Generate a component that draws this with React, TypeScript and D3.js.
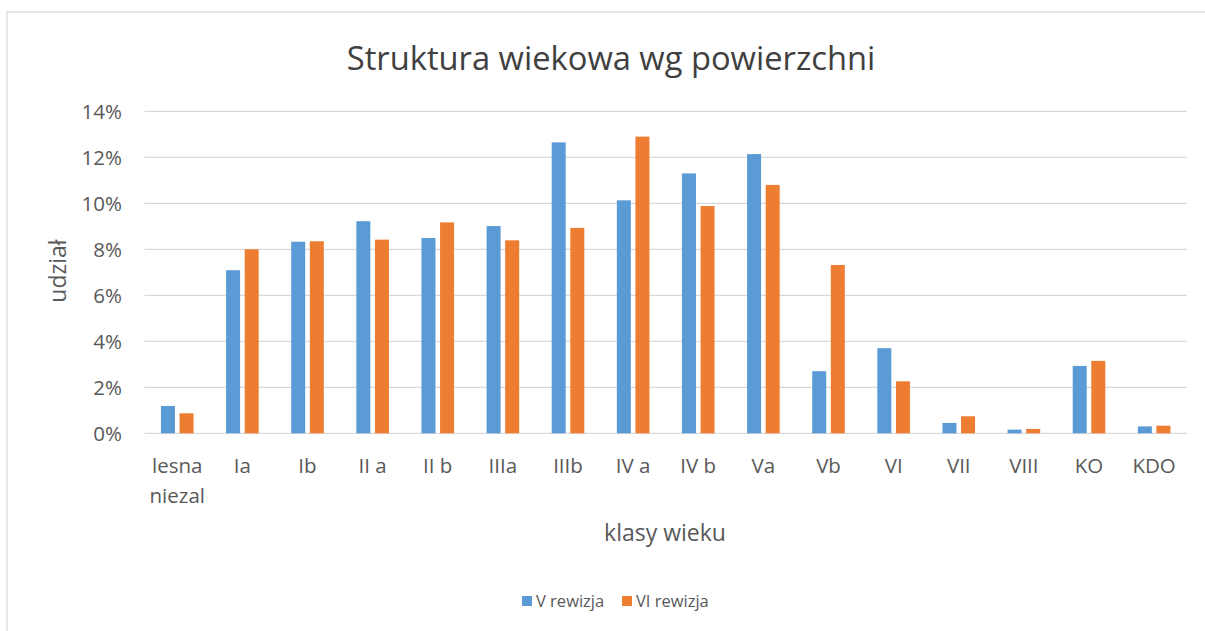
import React from "react";
import * as d3 from "d3";

const categories = ["lesna niezal", "Ia", "Ib", "II a", "II b", "IIIa", "IIIb", "IV a", "IV b", "Va", "Vb", "VI", "VII", "VIII", "KO", "KDO"];
const seriesNames = ["V rewizja", "VI rewizja"];
const vRewizja = [1.19, 7.09, 8.33, 9.22, 8.49, 9.01, 12.65, 10.13, 11.3, 12.14, 2.7, 3.7, 0.45, 0.16, 2.93, 0.3];
const viRewizja = [0.87, 8.0, 8.35, 8.42, 9.17, 8.39, 8.93, 12.9, 9.88, 10.8, 7.32, 2.26, 0.74, 0.19, 3.15, 0.33];
const yTicks = [0, 2, 4, 6, 8, 10, 12, 14];
const colors = ["#5B9BD5", "#ED7D31"];

const W = 1205;
const H = 631;
const FONT = "'Open Sans', Lato, sans-serif";

export default function App() {
  const left = 144.7;
  const right = 1186.7;
  const top = 111.3;
  const bottom = 433.3;
  const x = d3.scaleBand<string>().domain(categories).range([left, right]).paddingInner(0).paddingOuter(0);
  const y = d3.scaleLinear().domain([0, 14]).range([bottom, top]);
  const barW = 14;
  const gap = 4.6;
  const series = [vRewizja, viRewizja];

  return (
    <svg width={W} height={H} style={{ position: "absolute", left: 0, top: 0, background: "#fff" }}>
      <rect x={0} y={0} width={W} height={H} fill="#fff" />
      <rect x={7} y={12} width={W + 20} height={H + 20} fill="#fff" stroke="#D9D9D9" strokeWidth={1.3} />
      <text x={611} y={70} textAnchor="middle" fontFamily={FONT} fontSize={32.7} fill="#404040">
        Struktura wiekowa wg powierzchni
      </text>
      {yTicks.map((t) => (
        <g key={t}>
          <line x1={left} x2={right} y1={y(t)} y2={y(t)} stroke="#D9D9D9" strokeWidth={1.3} />
          <text x={122} y={y(t)} dy="0.36em" textAnchor="end" fontFamily={FONT} fontSize={20.5} fill="#595959">
            {t}%
          </text>
        </g>
      ))}
      {series.map((vals, si) =>
        vals.map((v, i) => {
          const c = (x(categories[i]) as number) + x.bandwidth() / 2;
          const bx = si === 0 ? c - gap / 2 - barW : c + gap / 2;
          return (
            <rect key={`${si}-${i}`} x={bx} y={y(v)} width={barW} height={y(0) - y(v)} fill={colors[si]} />
          );
        })
      )}
      {categories.map((c) => {
        const cx = (x(c) as number) + x.bandwidth() / 2;
        const words = c === "lesna niezal" ? ["lesna", "niezal"] : [c];
        return (
          <text key={c} x={cx} y={473} textAnchor="middle" fontFamily={FONT} fontSize={20.5} fill="#595959">
            {words.map((w, k) => (
              <tspan key={k} x={cx} dy={k === 0 ? 0 : 30}>
                {w}
              </tspan>
            ))}
          </text>
        );
      })}
      <text x={665} y={541} textAnchor="middle" fontFamily={FONT} fontSize={23} fill="#595959">
        klasy wieku
      </text>
      <text transform={`translate(66,271) rotate(-90)`} textAnchor="middle" fontFamily={FONT} fontSize={23} fill="#595959">
        udział
      </text>
      {seriesNames.map((n, i) => {
        const lx = i === 0 ? 522 : 622;
        return (
          <g key={n}>
            <rect x={lx} y={596} width={10} height={10} fill={colors[i]} />
            <text x={lx + 14} y={607} fontFamily={FONT} fontSize={16.5} fill="#595959">
              {n}
            </text>
          </g>
        );
      })}
    </svg>
  );
}
